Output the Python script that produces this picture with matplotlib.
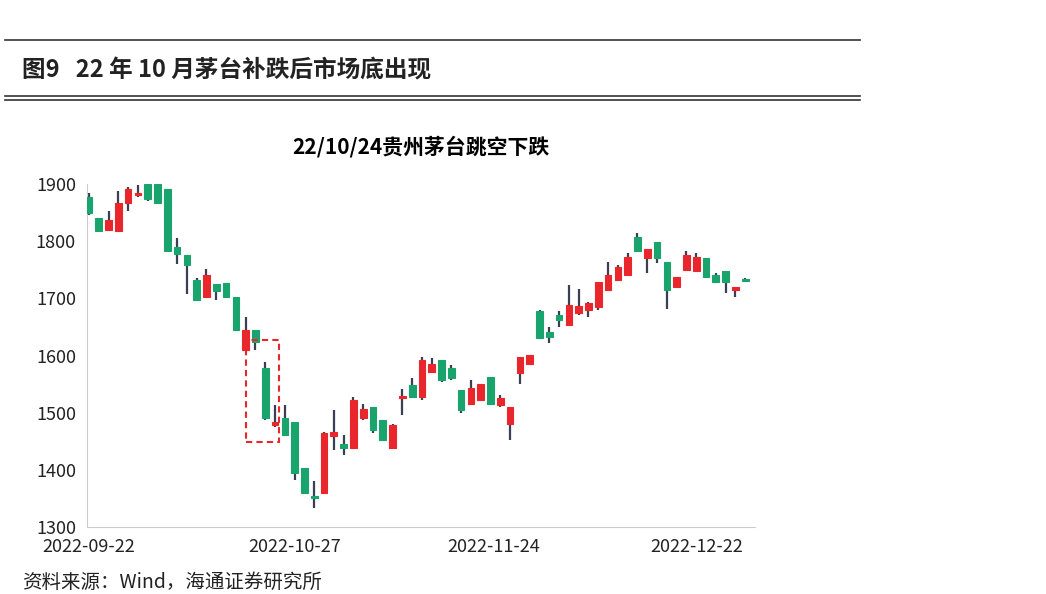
import matplotlib
matplotlib.use("Agg")
import matplotlib.pyplot as plt
from matplotlib.patches import Rectangle

plt.rcParams['font.family'] = ['Noto Sans CJK SC', 'DejaVu Sans']

# OHLC
opens = [1878, 1840, 1820, 1818, 1866, 1880, 1900, 1900, 1891, 1790, 1776, 1732, 1703, 1725, 1727, 1703,
         1610, 1645, 1578, 1478, 1490, 1484, 1403, 1352, 1359, 1459, 1446, 1438, 1490, 1510, 1487, 1438,
         1526, 1548, 1527, 1572, 1592, 1578, 1540, 1516, 1522, 1563, 1513, 1481, 1569, 1586, 1677, 1641,
         1671, 1653, 1674, 1679, 1685, 1715, 1732, 1741, 1808, 1770, 1799, 1764, 1720, 1750, 1747, 1770,
         1741, 1747, 1714, 1734]
closes = [1850, 1817, 1837, 1866, 1892, 1883, 1873, 1866, 1782, 1778, 1758, 1697, 1741, 1713, 1703, 1645,
          1645, 1624, 1490, 1483, 1461, 1394, 1359, 1350, 1464, 1467, 1438, 1522, 1507, 1470, 1452, 1478,
          1528, 1528, 1592, 1586, 1557, 1560, 1505, 1543, 1551, 1516, 1525, 1510, 1598, 1601, 1630, 1633,
          1662, 1688, 1686, 1691, 1729, 1741, 1755, 1773, 1782, 1787, 1770, 1715, 1738, 1776, 1773, 1738,
          1729, 1729, 1720, 1730]
highs = [1885, 1840, 1853, 1887, 1895, 1898, 1902, 1900, 1891, 1805, 1776, 1735, 1752, 1725, 1727, 1703,
         1668, 1645, 1588, 1513, 1513, 1484, 1403, 1380, 1467, 1505, 1461, 1527, 1516, 1510, 1487, 1481,
         1542, 1560, 1598, 1595, 1592, 1584, 1540, 1557, 1551, 1563, 1531, 1510, 1598, 1601, 1680, 1650,
         1677, 1723, 1717, 1694, 1729, 1764, 1759, 1779, 1814, 1787, 1799, 1764, 1738, 1782, 1779, 1770,
         1744, 1747, 1720, 1736]
lows = [1845, 1817, 1820, 1818, 1852, 1878, 1870, 1866, 1782, 1760, 1708, 1697, 1703, 1697, 1703, 1645,
        1610, 1610, 1487, 1475, 1461, 1382, 1359, 1333, 1359, 1435, 1426, 1438, 1487, 1464, 1452, 1438,
        1496, 1528, 1522, 1569, 1554, 1557, 1499, 1516, 1522, 1516, 1510, 1452, 1551, 1586, 1630, 1621,
        1650, 1653, 1671, 1668, 1680, 1715, 1732, 1741, 1782, 1744, 1761, 1682, 1720, 1747, 1747, 1738,
        1726, 1709, 1703, 1728]

tick_labels = ["2022-09-22", "2022-10-27", "2022-11-24", "2022-12-22"]
tick_idx = [0, 21, 41.3, 62]

red = "#e8262b"
green = "#19a46e"
wick = "#3a3f55"

fig = plt.figure(figsize=(10.46, 5.94), dpi=100)
ax = fig.add_axes([87 / 1046, 1 - 527 / 594, 668 / 1046, 343 / 594])

for i in range(len(opens)):
    o, c, h, l = opens[i], closes[i], highs[i], lows[i]
    col = red if c >= o else green
    ax.vlines(i, l, h, color=wick, lw=1.6, zorder=2)
    ax.add_patch(Rectangle((i - 0.34, min(o, c)), 0.68, max(abs(c - o), 4), facecolor=col,
                           edgecolor=col, lw=0.8, zorder=3))

# dashed highlight box around the gap
ax.add_patch(Rectangle((16.0, 1449), 3.45, 178, fill=False, edgecolor=red, ls=(0, (3, 2)), lw=1.5, zorder=4))

ax.set_xlim(-0.2, 68)
ax.set_ylim(1300, 1900)
ax.set_yticks([1300, 1400, 1500, 1600, 1700, 1800, 1900])
ax.set_xticks(tick_idx)
ax.set_xticklabels(tick_labels)
ax.tick_params(labelsize=13, length=0, pad=8, colors="#222222")
for s in ["top", "right"]:
    ax.spines[s].set_visible(False)
for s in ["left", "bottom"]:
    ax.spines[s].set_color("#cccccc")

ax.set_title("22/10/24贵州茅台跳空下跌", fontsize=15, fontweight="bold", pad=22)

fig.add_artist(plt.Line2D([5 / 1046, 860 / 1046], [1 - 40 / 594] * 2, color="#333333", lw=1.2))
fig.add_artist(plt.Line2D([5 / 1046, 860 / 1046], [1 - 96 / 594] * 2, color="#333333", lw=1.2))
fig.add_artist(plt.Line2D([5 / 1046, 860 / 1046], [1 - 100 / 594] * 2, color="#333333", lw=1.2))
fig.text(22 / 1046, 1 - 70 / 594, "图9   22 年 10 月茅台补跌后市场底出现", fontsize=17, fontweight="bold",
         va="center", color="#222222")
fig.text(22 / 1046, 1 - 582 / 594, "资料来源：Wind，海通证券研究所", fontsize=14, va="center", color="#222222")

fig.savefig("out.png", dpi=100, facecolor="white")
